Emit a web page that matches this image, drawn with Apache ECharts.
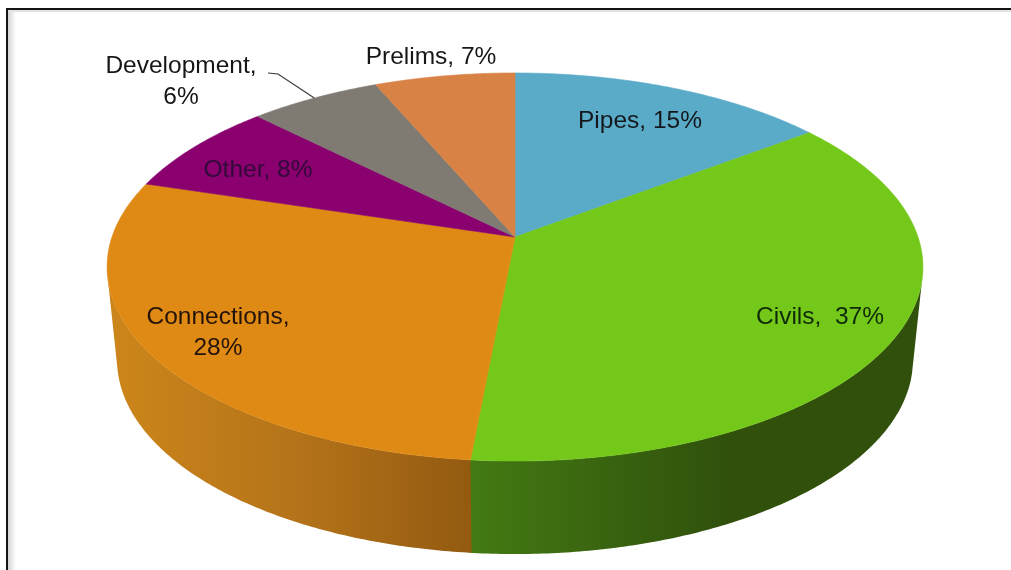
<!DOCTYPE html>
<html><head><meta charset="utf-8">
<style>html,body{margin:0;padding:0;background:#fff}#c{width:1011px;height:570px}</style>
<script src="https://cdn.jsdelivr.net/npm/echarts@6/dist/echarts.min.js"></script>
</head><body><div id="c"></div>
<script>
// --- data ---
const categories = ['Pipes', 'Civils', 'Connections', 'Other', 'Development', 'Prelims'];
const shares = [14.8, 37.0, 28.4, 7.8, 6.1, 6.5];
const labelSeparators = [' ', '  ', '\n', ' ', '\n', ' '];

// --- look and layout ---
const topColors = ['#5aabc8', '#74c81a', '#df8a14', '#8a006f', '#7f7a72', '#d98245'];
const wallColors = [
  ['#3a6f82', '#3a6f82'], ['#437a13', '#30500c'], ['#cb851a', '#935a10'],
  ['#5a0048', '#5a0048'], ['#55524c', '#55524c'], ['#8d552c', '#8d552c']
];
const textColors = ['#14181c', '#0e2a08', '#24130a', '#33083a', '#161616', '#161616'];
const labelCentres = [[640, 121], [820, 317], [218, 333], [258, 170], [181, 82], [431, 57]];
const leaderStart = [[268, 73], [278, 74]];
const leaderIndex = 4;
const apex = [515, 237], persp = 0.1546, rY = 189.4, rX = 403;
const topEllipse = { cx: 515, cy: 267, rx: 408, ry: 194 };
const bottomEllipse = { cx: 515, cy: 360, rx: 398, ry: 194 };

const total = shares.reduce((a, b) => a + b, 0);
const cumulative = []; shares.reduce((a, v, i) => (cumulative[i] = [a, a + v], a + v), 0);
const angle = v => v / total * Math.PI * 2;
function project(t) {
  const d = 1 + persp * Math.cos(t);
  return [apex[0] + rX * Math.sin(t) / d, apex[1] - rY * Math.cos(t) / d];
}
function lower(p) {
  return [bottomEllipse.cx + (p[0] - topEllipse.cx) / topEllipse.rx * bottomEllipse.rx,
          bottomEllipse.cy + (p[1] - topEllipse.cy) / topEllipse.ry * bottomEllipse.ry];
}
function arc(a, b, step) {
  const pts = [], n = Math.max(2, Math.ceil((b - a) / step));
  for (let i = 0; i <= n; i++) pts.push(project(a + (b - a) * i / n));
  return pts;
}
// angles at which the side wall's outline leaves the top rim
function silhouette(nx, ny, from, to) {
  let best = from, bestV = -Infinity;
  for (let t = from; t <= to; t += 0.002) {
    const p = project(t), v = p[0] * nx + p[1] * ny;
    if (v > bestV) { bestV = v; best = t; }
  }
  return best;
}
const wallStart = silhouette(93, 9, 0, Math.PI);
const wallEnd = silhouette(-93, 9, Math.PI, Math.PI * 2);
const rows = categories.map((c, i) => [i, cumulative[i][0], cumulative[i][1]]);

const chart = echarts.init(document.getElementById('c'), null, { renderer: 'canvas' });
chart.setOption({
  animation: false,
  backgroundColor: '#fff',
  graphic: [
    { type: 'rect', z: 1, silent: true, shape: { x: 8, y: 10, width: 8, height: 570 },
      style: { fill: new echarts.graphic.LinearGradient(0, 0, 1, 0, [{ offset: 0, color: '#d4d4d4' }, { offset: 1, color: '#fff' }]) } },
    { type: 'rect', z: 1, silent: true, shape: { x: 8, y: 10, width: 1010, height: 2 }, style: { fill: '#e2e2e2' } },
    { type: 'rect', z: 2, silent: true, shape: { x: 7, y: 9, width: 1100, height: 700 },
      style: { fill: 'transparent', stroke: '#141414', lineWidth: 2 } }
  ],
  series: [
    { // side wall: only the visible stretch between the two silhouette angles
      type: 'custom', coordinateSystem: 'none', z: 3, silent: true, data: rows,
      renderItem(params, api) {
        const i = api.value(0);
        // a sliver of overlap under the next slice hides the anti-aliasing seam
        const a = Math.max(angle(api.value(1)), wallStart), b = Math.min(angle(api.value(2)) + 0.006, wallEnd);
        if (b <= a) return null;
        const up = arc(a, b, 0.01);
        const c = wallColors[i];
        const fill = i === 2
          ? new echarts.graphic.LinearGradient(117, 0, 470, 0, [{ offset: 0, color: c[0] }, { offset: 0.5, color: '#b5741a' }, { offset: 1, color: c[1] }], true)
          : i === 1
          ? new echarts.graphic.LinearGradient(470, 0, 730, 0, [{ offset: 0, color: c[0] }, { offset: 1, color: c[1] }], true)
          : c[0];
        return { type: 'polygon', shape: { points: up.concat(up.map(lower).reverse()) }, style: { fill } };
      }
    },
    { // top face
      type: 'custom', coordinateSystem: 'none', z: 4, silent: true, data: rows,
      renderItem(params, api) {
        const i = api.value(0), a = angle(api.value(1)), b = angle(api.value(2));
        return { type: 'polygon', shape: { points: [apex].concat(arc(a, b, 0.01)) },
          style: { fill: topColors[i], stroke: topColors[i], lineWidth: 0.6 } };
      }
    },
    { // data labels and leader
      type: 'custom', coordinateSystem: 'none', z: 5, silent: true, data: rows,
      renderItem(params, api) {
        const i = api.value(0), children = [{
          type: 'text', x: labelCentres[i][0], y: labelCentres[i][1],
          style: {
            text: categories[i] + ',' + labelSeparators[i] + Math.round(shares[i]) + '%',
            fontFamily: '"Liberation Sans", Arial, sans-serif', fontSize: 24.5, lineHeight: 31,
            fill: textColors[i], align: 'center', verticalAlign: 'middle'
          }
        }];
        if (i === leaderIndex) {
          const end = project((angle(api.value(1)) + angle(api.value(2))) / 2);
          children.push({ type: 'polyline', shape: { points: leaderStart.concat([end]) },
            style: { fill: 'none', stroke: '#3a3a3a', lineWidth: 1.2 } });
        }
        return { type: 'group', children };
      }
    }
  ]
});
</script></body></html>
